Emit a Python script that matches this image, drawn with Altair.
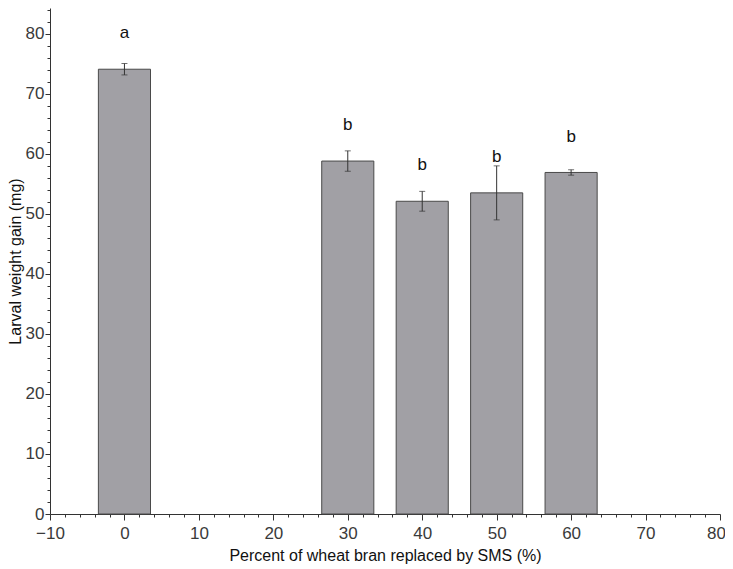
import altair as alt
import pandas as pd

pct = [0, 30, 40, 50, 60]
gain = [74.1, 58.8, 52.1, 53.5, 56.9]
err = [0.95, 1.7, 1.65, 4.5, 0.45]
letters = ["a", "b", "b", "b", "b"]
letter_y = [79.25, 63.9, 57.3, 58.6, 61.9]

x_ticks = list(range(-10, 81, 2))
y_ticks = list(range(0, 85, 2))

df = pd.DataFrame({"pct": pct, "gain": gain, "err": err,
                   "letter": letters, "ly": letter_y})

FONT = "Liberation Sans"
AX = "#333333"

xscale = alt.Scale(domain=[-10, 80], nice=False, zero=False)
yscale = alt.Scale(domain=[0, 84.3], nice=False)

xaxis = alt.Axis(
    title="Percent of wheat bran replaced by SMS (%)",
    values=x_ticks, grid=False,
    labelExpr="datum.value % 10 === 0 ? datum.label : ''",
    tickSize={"condition": {"test": "datum.value % 10 === 0", "value": 6}, "value": 3},
    labelOffset={"condition": {"test": "datum.value === 80", "value": -4}, "value": 0},
    labelPadding=5, titlePadding=6, labelFlush=False, labelOverlap=False,
    titleFontSize=16,
)
yaxis = alt.Axis(
    title="Larval weight gain (mg)",
    values=y_ticks, grid=False,
    labelExpr="datum.value % 10 === 0 ? datum.label : ''",
    tickSize={"condition": {"test": "datum.value % 10 === 0", "value": 5}, "value": 3},
    labelPadding=1, titlePadding=2, labelFlush=False, labelOverlap=False,
    titleFontSize=16,
)

base = alt.Chart(df)

bars = base.transform_calculate(
    lo="datum.pct - 3.5", hi="datum.pct + 3.5"
).mark_bar(color="#a1a0a5", stroke="#4a4a4a", strokeWidth=1).encode(
    x=alt.X("lo:Q", scale=xscale, axis=xaxis),
    x2="hi:Q",
    y=alt.Y("gain:Q", scale=yscale, axis=yaxis),
    y2=alt.datum(0),
)

errs = base.transform_calculate(
    elo="datum.gain - datum.err", ehi="datum.gain + datum.err"
).mark_errorbar(ticks={"size": 6, "color": "#333333", "strokeWidth": 1},
                color="#333333", thickness=1).encode(
    x=alt.X("pct:Q", scale=xscale, axis=xaxis),
    y=alt.Y("elo:Q", scale=yscale, axis=yaxis),
    y2="ehi:Q",
)

text = base.mark_text(font=FONT, fontSize=17, color="#111111",
                      baseline="alphabetic", align="center").encode(
    x=alt.X("pct:Q", scale=xscale, axis=xaxis),
    y=alt.Y("ly:Q", scale=yscale, axis=yaxis),
    text="letter:N",
)

chart = alt.layer(bars, errs, text).properties(
    width=670, height=506,
    autosize=alt.AutoSizeParams(type="none"),
    padding={"left": 42, "top": 0, "right": 5, "bottom": 51},
).configure_view(stroke=None).configure_axis(
    domainColor=AX, tickColor=AX, labelColor="#3a3a3a", titleColor="#111111",
    labelFont=FONT, titleFont=FONT, labelFontSize=17,
    titleFontWeight="normal", domainWidth=1, tickWidth=1,
)

chart.save("out.html", embed_options={"renderer": "svg", "actions": False})
